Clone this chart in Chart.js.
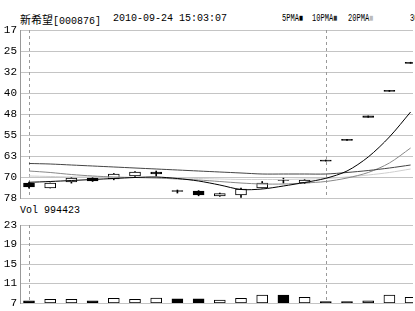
<!DOCTYPE html>
<html>
<head>
<meta charset="utf-8">
<script src="https://cdn.jsdelivr.net/npm/chart.js@4.4.0/dist/chart.umd.min.js"></script>
<style>
body { margin:0; background:#fff; width:415px; height:311px; overflow:hidden; position:relative; }
canvas { position:absolute; left:0; }
.t { position:absolute; white-space:nowrap; font-family:"Liberation Mono", monospace; font-size:10px; color:#000; }
.cjk { font-family:"Noto Sans CJK SC"; font-size:11px; }
.lg { position:absolute; top:12px; white-space:nowrap; font-family:"Liberation Mono", monospace; font-size:11px; transform:scaleX(0.64); transform-origin:0 0; }
.sq { font-size:10px; }
</style>
</head>
<body>
<div class="t" style="left:20px;top:11px"><span class="cjk">新希望</span>[000876]</div>
<div class="t" style="left:113px;top:13px">2010-09-24 15:03:07</div>
<div class="lg" style="left:282px">5PMA<span class="sq" style="color:#000">■</span></div>
<div class="lg" style="left:312px">10PMA<span class="sq" style="color:#333">■</span></div>
<div class="lg" style="left:348px">20PMA<span class="sq" style="color:#bbb">■</span></div>
<div class="lg" style="left:410px">30PMA</div>
<div class="t" style="left:20px;top:205px">Vol 994423</div>
<canvas id="c1" width="415" height="220" style="top:0"></canvas>
<canvas id="c2" width="415" height="120" style="top:200px"></canvas>
<script>
// candle bodies (axis values), wicks, filled = black candle
var bodyA  = [72.55, 72.55, 70.74, 70.74, 69.29, 68.56, 68.56, 75.28, 75.46, 76.37, 74.73, 72.55, 71.40, 71.47, 64.2, 56.7, 48.2, 38.9, 28.7];
var bodyB  = [74.00, 74.37, 72.19, 71.83, 71.10, 70.00, 69.29, 75.64, 76.91, 77.27, 76.91, 74.37, 71.60, 72.55, 64.6, 57.1, 48.7, 39.3, 29.1];
var wickLo = [72.20, 72.55, 70.50, 70.50, 69.10, 68.40, 68.20, 75.10, 75.30, 76.20, 74.40, 72.00, 70.80, 71.20, 64.2, 56.7, 48.2, 38.9, 28.7];
var wickHi = [74.40, 74.37, 72.60, 72.00, 71.40, 70.20, 70.00, 76.20, 77.20, 77.40, 77.80, 74.40, 72.60, 72.80, 64.6, 57.1, 48.7, 39.3, 29.1];
var filled = [1, 0, 0, 1, 0, 0, 1, 1, 1, 0, 0, 0, 1, 0, 1, 1, 1, 1, 1];

var ma5  = [72.30, 72.01, 71.65, 71.28, 70.92, 70.56, 70.38, 70.92, 71.83, 73.28, 74.91, 74.73, 73.64, 72.37, 70.85, 68.20, 63.11, 55.85, 46.77];
var ma10 = [68.20, 68.74, 69.47, 70.01, 70.37, 70.56, 70.74, 71.10, 71.47, 72.01, 72.56, 72.92, 72.92, 72.56, 72.01, 70.74, 68.74, 65.29, 59.85];
var ma20 = [65.47, 65.66, 66.02, 66.38, 66.74, 67.11, 67.47, 67.83, 68.20, 68.56, 68.92, 69.29, 69.29, 69.29, 69.29, 68.74, 68.02, 67.11, 66.02];
var ma30 = [70.01, 70.19, 70.37, 70.37, 70.56, 70.56, 70.74, 70.74, 70.92, 71.10, 71.28, 71.28, 71.28, 71.10, 70.92, 70.37, 69.65, 68.74, 67.47];

var vol     = [7.47, 7.76, 7.76, 7.47, 7.96, 7.76, 8.00, 7.88, 7.88, 7.60, 7.96, 8.64, 8.64, 8.17, 7.27, 7.27, 7.47, 8.64, 8.17];
var volFill = ['#000','#fff','#fff','#000','#fff','#fff','#fff','#000','#000','#fff','#fff','#fff','#000','#fff','#000','#000','#999','#fff','#fff'];

var priceTicks = [17, 24.625, 32.25, 39.875, 47.5, 55.125, 62.75, 70.375, 78];
var volTicks = [7, 11, 15, 19, 23];
var dayMarks = [0, 14];

var xmin = -0.4245, xmax = 18.113;
var gridCol = '#c4c4c4';
var tickFont = { family: 'Liberation Mono', size: 11 };

function pts(arr) { var r = []; for (var i = 0; i < arr.length; i++) r.push({ x: i, y: arr[i] }); return r; }
function rng(a, b) { var r = []; for (var i = 0; i < a.length; i++) r.push({ x: i, y: [a[i], b[i]] }); return r; }

var dashPlugin = {
  id: 'dash',
  beforeDatasetsDraw: function(chart) {
    var ctx = chart.ctx, a = chart.chartArea, sx = chart.scales.x;
    ctx.save();
    ctx.strokeStyle = '#999';
    ctx.lineWidth = 1;
    ctx.setLineDash([3, 3]);
    for (var i = 0; i < dayMarks.length; i++) {
      var px = Math.round(sx.getPixelForValue(dayMarks[i])) + 0.5;
      ctx.beginPath(); ctx.moveTo(px, a.top); ctx.lineTo(px, a.bottom); ctx.stroke();
    }
    ctx.restore();
  }
};

function maLine(data, col, ord) {
  return { type: 'line', data: pts(data), borderColor: col, borderWidth: 1, pointRadius: 0, tension: 0.3, order: ord, fill: false };
}

new Chart(document.getElementById('c1').getContext('2d'), {
  type: 'bar',
  data: {
    datasets: [
      { data: rng(wickLo, wickHi), backgroundColor: '#000', barThickness: 1, order: 5, grouped: false },
      { data: rng(bodyA, bodyB), backgroundColor: filled.map(function(f) { return f ? '#000' : '#fff'; }),
        borderColor: '#000', borderWidth: 1, borderSkipped: false, barThickness: 11, order: 4, grouped: false },
      maLine(ma30, '#cfcfcf', 3),
      maLine(ma20, '#444', 2),
      maLine(ma10, '#888', 2),
      maLine(ma5, '#000', 1)
    ]
  },
  options: {
    responsive: false, animation: false,
    layout: { padding: { top: 30, right: 2, bottom: 22, left: 0 } },
    plugins: { legend: { display: false }, tooltip: { enabled: false } },
    scales: {
      x: { type: 'linear', min: xmin, max: xmax, offset: false, display: false },
      y: {
        reverse: true, min: 17, max: 78,
        afterBuildTicks: function(s) { s.ticks = priceTicks.map(function(v) { return { value: v }; }); },
        afterFit: function(s) { s.width = 20; },
        grid: { color: gridCol, drawTicks: false },
        border: { color: '#999' },
        ticks: { padding: 3, color: '#000', font: tickFont, callback: function(v) { return Math.round(v); } }
      }
    }
  },
  plugins: [dashPlugin]
});

new Chart(document.getElementById('c2').getContext('2d'), {
  type: 'bar',
  data: {
    datasets: [
      { data: vol.map(function(v, i) { return { x: i, y: [7, v] }; }), backgroundColor: volFill,
        borderColor: '#000', borderWidth: 1, borderSkipped: false, barThickness: 11 }
    ]
  },
  options: {
    responsive: false, animation: false,
    layout: { padding: { top: 25, right: 2, bottom: 17, left: 0 } },
    plugins: { legend: { display: false }, tooltip: { enabled: false } },
    scales: {
      x: { type: 'linear', min: xmin, max: xmax, offset: false, display: false },
      y: {
        min: 7, max: 23,
        afterBuildTicks: function(s) { s.ticks = volTicks.map(function(v) { return { value: v }; }); },
        afterFit: function(s) { s.width = 20; },
        grid: { color: gridCol, drawTicks: false },
        border: { color: '#999' },
        ticks: { padding: 3, color: '#000', font: tickFont }
      }
    }
  },
  plugins: [dashPlugin]
});
</script>
</body>
</html>
